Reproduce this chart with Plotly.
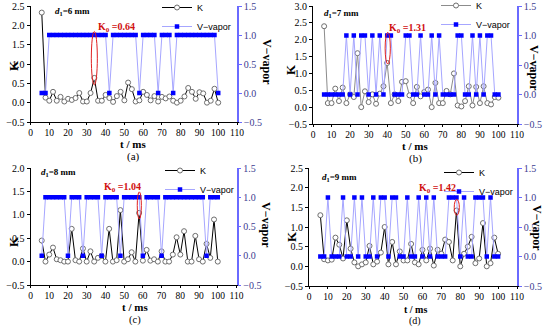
import plotly.graph_objects as go

# ---------------- data ----------------
t_ms = [6, 8, 10, 12, 14, 16, 18, 20, 22, 24, 26, 28, 30, 32, 34, 36, 38, 40, 42, 44, 46, 48, 50, 52,
        54, 56, 58, 60, 62, 64, 66, 68, 70, 72, 74, 76, 78, 80, 82, 84, 86, 88, 90, 92, 94, 96, 98, 100]

K_a = [2.33, 0.13, 0.05, 0.28, 0.05, 0.15, 0.03, 0.10, 0.07, 0.12, 0.25, 0.03, 0.03, 0.25, 0.64, 0.05,
       0.05, 0.20, 0.12, 0.02, 0.17, 0.28, 0.06, 0.52, 0.35, 0.03, 0.06, 0.28, 0.20, 0.06, 0.17, 0.03,
       0.15, 0.11, 0.16, 0.05, 0.00, 0.05, 0.16, 0.38, 0.28, 0.10, 0.27, 0.24, 0.00, 0.05, 0.36, 0.00]
V_a = [0, 0, 1, 1, 1, 1, 1, 1, 1, 1, 1, 1, 1, 1, 1, 1, 1, 1, 0, 1, 1, 1, 1, 1,
       1, 1, 0, 1, 1, 1, 1, 0, 1, 1, 1, 0, 1, 1, 1, 1, 1, 1, 1, 1, 1, 1, 1, 0]

K_b = [2.40, 0.12, 0.12, 0.55, 0.18, 0.58, 0.12, 0.38, 0.30, 1.60, 0.00, 0.47, 0.15, 0.38, 0.10, 0.40,
       0.62, 1.31, 0.12, 0.38, 0.18, 0.75, 0.77, 0.35, 0.12, 0.60, 0.32, 0.45, 0.52, 0.00, 0.72, 0.12,
       0.12, 0.48, 0.38, 1.00, 0.05, 0.02, 0.18, 0.62, 0.05, 0.60, 0.12, 0.62, 0.12, 0.08, 0.30, 0.28]
V_b = [0, 0, 0, 0, 0, 0, 1, 0, 1, 0, 1, 1, 0, 1, 0, 1, 0, 1, 1, 0, 0, 0, 1, 1,
       0, 0, 1, 0, 0, 1, 0, 1, 0, 0, 0, 0, 1, 1, 0, 0, 1, 0, 1, 0, 1, 1, 0, 0]

K_c = [0.45, 0.00, 0.15, 0.30, 0.05, 0.03, 0.00, 0.00, 0.70, 0.03, 0.00, 0.28, 0.00, 0.22, 0.00, 0.08,
       0.12, 0.00, 0.70, 0.00, 0.03, 1.10, 0.00, 0.05, 0.20, 0.00, 1.04, 0.02, 0.25, 0.02, 0.05, 0.00,
       0.22, 0.00, 0.00, 0.15, 0.52, 0.15, 0.65, 0.00, 0.00, 0.55, 0.05, 0.00, 0.38, 0.08, 0.90, 0.00]
V_c = [0, 1, 1, 1, 1, 1, 1, 0, 1, 1, 1, 0, 1, 1, 1, 1, 0, 1, 1, 1, 1, 0, 1, 1,
       1, 1, 1, 0, 1, 1, 1, 1, 0, 1, 1, 1, 1, 1, 1, 1, 1, 1, 1, 1, 0, 1, 1, 1]

K_d = [1.30, 0.18, 0.15, 0.17, 0.73, 0.55, 0.20, 1.17, 0.45, 0.10, 0.00, 0.05, 0.10, 0.52, 0.05, 0.12,
       0.35, 1.00, 0.05, 0.62, 0.05, 0.38, 0.15, 0.15, 0.57, 0.10, 0.05, 0.42, 0.15, 0.45, 0.02, 0.42,
       0.32, 0.68, 0.62, 0.15, 1.42, 0.00, 0.32, 0.50, 0.75, 0.08, 0.20, 1.10, 0.00, 0.08, 0.73, 0.32]
V_d = [0, 0, 1, 0, 0, 0, 1, 0, 0, 1, 0, 1, 0, 0, 1, 0, 1, 1, 0, 1, 1, 0, 0, 1,
       0, 0, 1, 0, 1, 0, 1, 0, 0, 0, 1, 1, 1, 0, 1, 0, 0, 1, 1, 1, 0, 1, 0, 0]

K_series = [K_a, K_b, K_c, K_d]
V_series = [V_a, V_b, V_c, V_d]
d1_values = ["6", "7", "8", "9"]
K0_labels = ["0.64", "1.31", "1.04", "1.42"]
panel_letters = ["(a)", "(b)", "(c)", "(d)"]
K_max = [2.5, 3.0, 2.0, 2.5]
x_ticks = [0, 10, 20, 30, 40, 50, 60, 70, 80, 90, 100, 110]
V_ticks = [-0.5, 0.0, 0.5, 1.0, 1.5]

# highlighted peak (ellipse: t0, t1, K0, K1) and label positions (data coords)
ellipses = [(32.4, 35.6, 0.46, 1.84), (38.9, 41.7, 1.28, 2.22), (57.0, 59.2, 0.91, 1.49), (76.8, 79.5, 1.30, 1.70)]
K0_pos = [(45.7, 1.94), (51.0, 2.34), (49.3, 1.59), (68.2, 1.98)]
d1_pos = [(12.2, 2.35), (5.1, 2.77), (4.8, 1.90), (5.6, 2.27)]
K_line_colors = ["black", "#8c8c8c", "black", "black"]

# ---------------- layout geometry (px) ----------------
W, H = 550, 327
SERIF = "Liberation Serif"
SANS = "Liberation Sans"
geo = [(30.5, 237, 6, 122), (313, 517, 6, 124), (30.5, 236.5, 168, 285), (309, 517, 168, 286)]
# legend top-right corners (px)
leg_pos = [(236, -7), (515, -9), (239, 156), (518, 158)]
# axis titles: K (x,y), t/ms (x,y), V-vapor (x,y), caption (x,y)
titles = [
    ((13, 66), (133, 144), (267, 62), (133, 157)),
    ((291, 70), (415, 146), (534, 68), (415, 158)),
    ((13, 242), (135, 307), (266, 225), (135, 319.5)),
    ((291, 237), (415, 309), (537, 228), (415, 321)),
]
t_title_size = [11, 11, 11, 10]
caption_size = [11, 11, 10.5, 10]

fig = go.Figure()
layout = dict(width=W, height=H, margin=dict(l=0, r=0, t=0, b=0, autoexpand=False),
              paper_bgcolor="white", plot_bgcolor="rgba(0,0,0,0)",
              showlegend=True, annotations=[], shapes=[])


def add_text(x, y, text, size, angle=0, color="black", bold=False):
    layout["annotations"].append(dict(
        x=x / W, y=1 - y / H, xref="paper", yref="paper", showarrow=False,
        xanchor="center", yanchor="middle", text=("<b>%s</b>" % text) if bold else text,
        textangle=angle, font=dict(family=SERIF, size=size, color=color)))


for i in range(4):
    xn = "" if i == 0 else str(i + 1)
    yln = "" if i == 0 else str(2 * i + 1)
    yrn = str(2 * i + 2)
    xa, yl, yr = "x" + xn, "y" + yln, "y" + yrn
    leg = "legend" if i == 0 else "legend%d" % (i + 1)
    l, r, t, b = geo[i]

    fig.add_trace(go.Scatter(
        x=t_ms, y=K_series[i], xaxis=xa, yaxis=yl, mode="lines+markers", name="K",
        line=dict(color=K_line_colors[i], width=1),
        marker=dict(symbol="circle", size=5, color="white", line=dict(color="#6e6e6e", width=1)),
        legend=leg))
    fig.add_trace(go.Scatter(
        x=t_ms, y=V_series[i], xaxis=xa, yaxis=yr, mode="lines+markers", name="V\u2212vapor",
        line=dict(color="#a6a6ff", width=1),
        marker=dict(symbol="square", size=4.5, color="#0000ff"),
        legend=leg))

    layout["xaxis" + xn] = dict(
        domain=[l / W, r / W], range=[0, 110], anchor=yl, tickvals=x_ticks,
        ticks="outside", ticklen=2, tickcolor="black", showline=True, linecolor="black", linewidth=1,
        showgrid=False, zeroline=False, automargin=False,
        tickfont=dict(family=SERIF, size=9.5, color="black"))
    layout["yaxis" + yln] = dict(
        domain=[1 - b / H, 1 - t / H], range=[-0.5, K_max[i]], anchor=xa, side="left",
        tick0=-0.5, dtick=0.5, tickformat=".1f",
        ticks="outside", ticklen=3, tickcolor="black", showline=True, linecolor="black", linewidth=1,
        showgrid=False, zeroline=False, automargin=False,
        tickfont=dict(family=SERIF, size=10, color="black"))
    layout["yaxis" + yrn] = dict(
        overlaying=yl, side="right", anchor=xa, range=[-0.5, 1.5], tickvals=V_ticks,
        tickformat=".1f", ticks="outside", ticklen=3, tickcolor="#6a6aff",
        showline=True, linecolor="#6a6aff", linewidth=1.5,
        showgrid=False, zeroline=False, automargin=False,
        tickfont=dict(family=SERIF, size=10, color="#3b3b8f"))

    lx, ly = leg_pos[i]
    layout[leg] = dict(x=lx / W, y=1 - ly / H, xanchor="right", yanchor="top",
                       bgcolor="rgba(0,0,0,0)", font=dict(family=SANS, size=9, color="black"),
                       tracegroupgap=0, itemwidth=30)

    e = ellipses[i]
    layout["shapes"].append(dict(type="circle", xref=xa, yref=yl, x0=e[0], x1=e[1], y0=e[2], y1=e[3],
                                 line=dict(color="#e02020", width=1)))

    kx, ky = K0_pos[i]
    layout["annotations"].append(dict(
        x=kx, y=ky, xref=xa, yref=yl, showarrow=False, xanchor="center", yanchor="middle",
        text="<b>K<sub>0</sub> =" + K0_labels[i] + "</b>",
        font=dict(family=SERIF, size=10, color="#d01010")))
    dx, dy = d1_pos[i]
    layout["annotations"].append(dict(
        x=dx, y=dy, xref=xa, yref=yl, showarrow=False, xanchor="left", yanchor="middle",
        text="<b><i>d</i><sub>1</sub>=" + d1_values[i] + " mm</b>",
        font=dict(family=SERIF, size=9, color="black")))

    (kxp, kyp), (txp, typ), (vxp, vyp), (cxp, cyp) = titles[i]
    add_text(kxp, kyp, "K", 13, angle=-90, bold=True)
    add_text(txp, typ, "t / ms", t_title_size[i], bold=True)
    add_text(vxp, vyp, "V\u2212vapor", 12, angle=90, bold=True)
    add_text(cxp, cyp, panel_letters[i], caption_size[i])

fig.update_layout(**layout)
fig.write_html("out.html", config={"displayModeBar": False},
               post_script="document.body.style.margin='0';document.body.style.overflow='hidden';")
